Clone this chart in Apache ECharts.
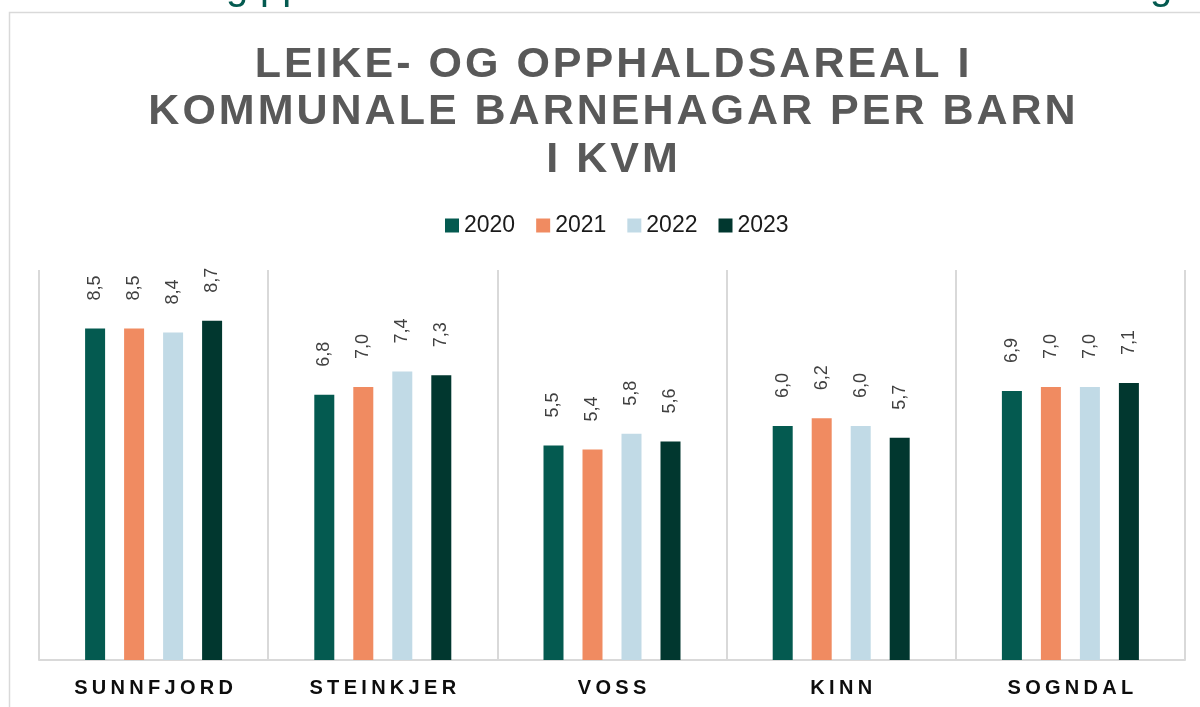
<!DOCTYPE html>
<html lang="nn" style="height: 100%">
<head>
    <meta charset="utf-8">
    <title>Leike- og opphaldsareal</title>
    <script src="https://cdn.jsdelivr.net/npm/echarts@6/dist/echarts.min.js"></script>
</head>
<body style="height: 100%; margin: 0; background: #fff">
<div id="main" style="width:1200px;height:707px"></div>
<script type="text/javascript">
    // data
    var categories = ['SUNNFJORD', 'STEINKJER', 'VOSS', 'KINN', 'SOGNDAL'];
    var years = ['2020', '2021', '2022', '2023'];
    var v2020 = [8.5, 6.8, 5.5, 6.0, 6.9];
    var v2021 = [8.5, 7.0, 5.4, 6.2, 7.0];
    var v2022 = [8.4, 7.4, 5.8, 6.0, 7.0];
    var v2023 = [8.7, 7.3, 5.6, 5.7, 7.1];
    var titleText = 'LEIKE- OG OPPHALDSAREAL I\nKOMMUNALE BARNEHAGAR PER BARN\nI KVM';
    var colors = ['#045a50', '#f08b61', '#c1dae6', '#01372f'];

    // letter-spaced text via rich tokens (one token per character)
    var ctx = document.createElement('canvas').getContext('2d');
    function spaced(text, font, spacing, base, prefix) {
        ctx.font = font;
        var rich = {};
        var names = {};
        var n = 0;
        var out = text.split('\n').map(function (line) {
            return line.split('').map(function (ch) {
                if (!names[ch]) {
                    names[ch] = prefix + (n++);
                    var st = Object.assign({}, base);
                    st.width = ctx.measureText(ch).width + spacing;
                    st.align = 'center';
                    rich[names[ch]] = st;
                }
                return '{' + names[ch] + '|' + ch + '}';
            }).join('');
        }).join('\n');
        return { text: out, rich: rich };
    }

    var labelBase = { fontFamily: 'Liberation Sans', fontWeight: 'bold', fontSize: 20, color: '#0d0d0d' };
    var titleBase = { fontFamily: 'Liberation Sans', fontWeight: 'bold', fontSize: 43, lineHeight: 47.5, color: '#595959' };
    var titleSpaced = spaced(titleText, 'bold 43px "Liberation Sans"', 3, titleBase, 't');
    var labelRich = {};
    var labelMap = {};
    categories.forEach(function (c, ci) {
        var r = spaced(c, 'bold 20px "Liberation Sans"', 4.3, labelBase, 'c' + ci + '_');
        labelMap[c] = r.text;
        Object.assign(labelRich, r.rich);
    });

    var values = [v2020, v2021, v2022, v2023];
    var series = [];
    for (var i = 0; i < years.length; i++) {
        series.push({
            name: years[i],
            type: 'bar',
            data: values[i],
            barWidth: 20,
            barGap: '95%',
            itemStyle: { color: colors[i] },
            label: {
                show: true,
                position: 'top',
                rotate: 90,
                align: 'left',
                verticalAlign: 'middle',
                distance: 28,
                fontFamily: 'Liberation Sans',
                fontSize: 18,
                color: '#404040',
                formatter: function (p) {
                    return p.value.toFixed(1).replace('.', ',');
                }
            }
        });
    }

    var chart = echarts.init(document.getElementById('main'));
    var option = {
        animation: false,
        title: {
            text: titleSpaced.text,
            left: 607,
            textAlign: 'center',
            top: 36,
            textStyle: {
                fontFamily: 'Liberation Sans',
                fontWeight: 'bold',
                fontSize: 43,
                lineHeight: 47.5,
                color: '#595959',
                rich: titleSpaced.rich
            }
        },
        legend: {
            data: years,
            top: 209,
            left: 440,
            itemWidth: 14,
            itemHeight: 14,
            itemGap: 21,
            icon: 'rect',
            textStyle: {
                fontFamily: 'Liberation Sans',
                fontSize: 23,
                color: '#1a1a1a'
            }
        },
        grid: {
            left: 39,
            right: 15,
            top: 270,
            bottom: 47,
            containLabel: false
        },
        xAxis: {
            type: 'category',
            data: categories,
            axisLine: { lineStyle: { color: '#d9d9d9', width: 2 } },
            axisTick: { show: false },
            splitLine: { show: true, interval: 0, lineStyle: { color: '#d9d9d9', width: 2 } },
            axisLabel: {
                interval: 0,
                margin: 18,
                fontFamily: 'Liberation Sans',
                fontWeight: 'bold',
                fontSize: 20,
                color: '#0d0d0d',
                rich: labelRich,
                formatter: function (v) { return labelMap[v]; }
            }
        },
        yAxis: {
            type: 'value',
            min: 0,
            max: 10,
            show: false,
            splitLine: { show: false }
        },
        graphic: [
            {
                type: 'rect',
                shape: { x: 9.5, y: 12.5, width: 1400, height: 900 },
                style: { fill: 'none', stroke: '#d9d9d9', lineWidth: 1.5 },
                silent: true
            },
            {
                type: 'text',
                left: 226,
                top: -32,
                style: { text: 'g', fontFamily: 'Liberation Sans', fontSize: 40, fill: '#045a50' }
            },
            {
                type: 'text',
                left: 260,
                top: -32,
                style: { text: 'pp', fontFamily: 'Liberation Sans', fontSize: 40, fill: '#045a50' }
            },
            {
                type: 'text',
                left: 1150,
                top: -32,
                style: { text: 'g', fontFamily: 'Liberation Sans', fontSize: 40, fill: '#045a50' }
            }
        ],
        series: series
    };
    chart.setOption(option);
</script>
</body>
</html>
